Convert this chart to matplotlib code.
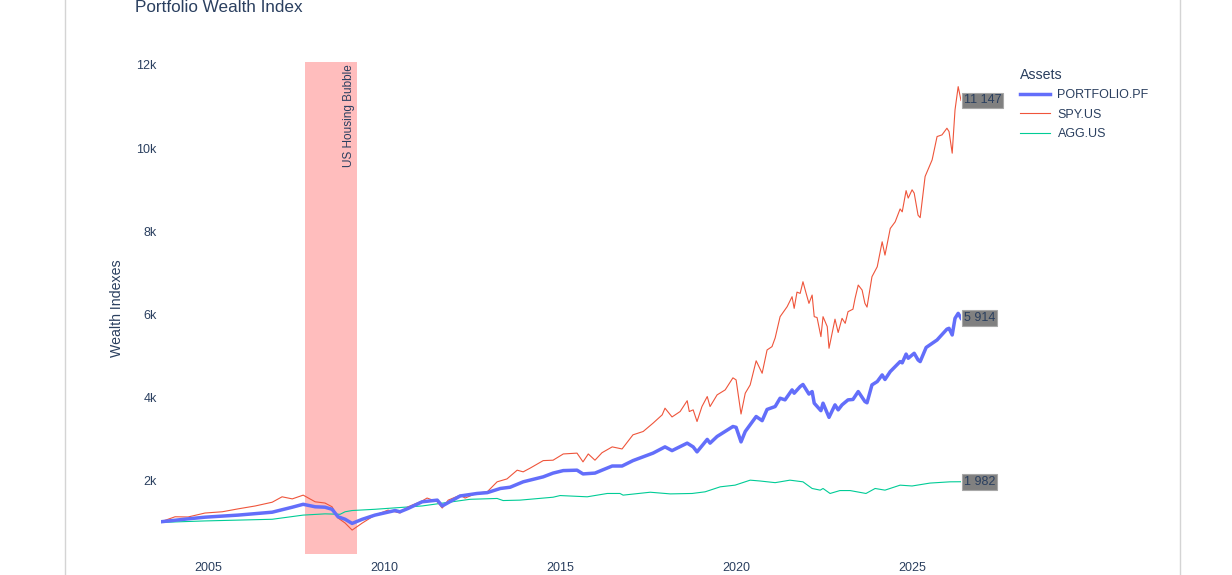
import matplotlib
matplotlib.use("Agg")
import matplotlib.pyplot as plt
from matplotlib.lines import Line2D

plt.rcParams['font.family'] = ['Liberation Sans', 'DejaVu Sans']

# ---------------- data (decimal years, wealth index) ----------------
spy_x = [2003.66, 2004.06, 2004.43, 2004.91, 2005.40, 2005.85, 2006.34, 2006.82, 2007.10,
         2007.39, 2007.70, 2008.04, 2008.32, 2008.52, 2008.69, 2008.89, 2009.09, 2009.38,
         2009.74, 2010.11, 2010.31, 2010.45, 2010.68, 2011.08, 2011.22, 2011.51, 2011.65,
         2011.82, 2012.16, 2012.30, 2012.64, 2012.93, 2013.21, 2013.49, 2013.78, 2013.95,
         2014.15, 2014.52, 2014.80, 2015.09, 2015.48, 2015.65, 2015.80, 2015.99, 2016.19,
         2016.48, 2016.65, 2016.76, 2017.07, 2017.36, 2017.64, 2017.90, 2017.98, 2018.18,
         2018.41, 2018.61, 2018.67, 2018.78, 2018.89, 2019.03, 2019.18, 2019.26, 2019.46,
         2019.69, 2019.91, 2020.00, 2020.14, 2020.26, 2020.40, 2020.57, 2020.74, 2020.88,
         2021.02, 2021.11, 2021.25, 2021.45, 2021.59, 2021.65, 2021.73, 2021.82, 2021.90,
         2021.99, 2022.07, 2022.16, 2022.22, 2022.30, 2022.41, 2022.47, 2022.59, 2022.64,
         2022.81, 2022.90, 2023.01, 2023.10, 2023.18, 2023.32, 2023.38, 2023.47, 2023.58,
         2023.66, 2023.72, 2023.86, 2024.01, 2024.15, 2024.23, 2024.38, 2024.52, 2024.66,
         2024.72, 2024.83, 2024.89, 2025.00, 2025.06, 2025.17, 2025.23, 2025.37, 2025.57,
         2025.71, 2025.85, 2025.99, 2026.05, 2026.14, 2026.22, 2026.31, 2026.39]
spy_v = [1020, 1140, 1135, 1230, 1260, 1330, 1400, 1490, 1620,
         1570, 1660, 1500, 1470, 1380, 1110, 990, 820, 990,
         1180, 1300, 1260, 1230, 1380, 1520, 1590, 1500, 1350,
         1540, 1660, 1590, 1710, 1740, 1980, 2050, 2260, 2220,
         2310, 2490, 2500, 2650, 2670, 2460, 2650, 2500, 2680,
         2820, 2790, 2770, 3110, 3190, 3390, 3590, 3750, 3540,
         3670, 3930, 3670, 3710, 3430, 3790, 4030, 3790, 4070,
         4190, 4480, 4430, 3610, 4110, 4310, 4890, 4590, 5150,
         5230, 5440, 5950, 6190, 6430, 6150, 6540, 6510, 6790,
         6510, 6270, 6470, 5950, 5930, 5470, 5950, 5710, 5190,
         5890, 5570, 5910, 5790, 6070, 6130, 6390, 6710, 6590,
         6270, 6180, 6910, 7150, 7750, 7430, 8070, 8230, 8540,
         8470, 8980, 8800, 9000, 8920, 8390, 8330, 9320, 9720,
         10280, 10320, 10480, 10400, 9880, 10920, 11480, 11147]

pf_x = [2003.66, 2004.43, 2004.91, 2005.85, 2006.82, 2007.39, 2007.70, 2008.04, 2008.32,
        2008.52, 2008.69, 2008.89, 2009.09, 2009.38, 2009.74, 2010.31, 2010.45, 2010.68,
        2011.08, 2011.51, 2011.65, 2012.16, 2012.64, 2012.93, 2013.30, 2013.58, 2013.95,
        2014.52, 2014.80, 2015.09, 2015.48, 2015.65, 2015.99, 2016.19, 2016.48, 2016.76,
        2017.07, 2017.64, 2017.98, 2018.18, 2018.61, 2018.78, 2018.89, 2019.18, 2019.26,
        2019.46, 2019.91, 2020.00, 2020.14, 2020.26, 2020.57, 2020.74, 2020.88, 2021.11,
        2021.25, 2021.39, 2021.59, 2021.65, 2021.82, 2021.90, 2022.07, 2022.16, 2022.22,
        2022.41, 2022.47, 2022.64, 2022.81, 2022.90, 2023.01, 2023.18, 2023.32, 2023.47,
        2023.66, 2023.72, 2023.86, 2024.01, 2024.15, 2024.23, 2024.38, 2024.66, 2024.72,
        2024.83, 2024.89, 2025.06, 2025.17, 2025.23, 2025.40, 2025.71, 2025.99, 2026.05,
        2026.14, 2026.22, 2026.31, 2026.39]
pf_v = [1020, 1090, 1130, 1180, 1250, 1370, 1440, 1380, 1370,
        1320, 1140, 1080, 980, 1080, 1180, 1290, 1260, 1340,
        1500, 1540, 1400, 1640, 1700, 1720, 1820, 1850, 1980,
        2100, 2190, 2250, 2260, 2170, 2190, 2260, 2360, 2360,
        2490, 2670, 2820, 2730, 2910, 2820, 2700, 3000, 2910,
        3070, 3310, 3290, 2940, 3190, 3550, 3450, 3720, 3790,
        3990, 3950, 4190, 4110, 4270, 4320, 4090, 4150, 3870,
        3690, 3870, 3530, 3830, 3710, 3830, 3950, 3960, 4150,
        3910, 3880, 4310, 4390, 4550, 4440, 4630, 4870, 4840,
        5050, 4950, 5070, 4910, 4870, 5210, 5390, 5650, 5670,
        5510, 5910, 6030, 5914]

agg_x = [2003.66, 2004.91, 2006.82, 2007.70, 2008.32, 2008.75, 2008.89, 2009.09, 2009.74,
         2011.08, 2012.44, 2013.21, 2013.38, 2013.86, 2014.80, 2015.00, 2015.77, 2016.34,
         2016.70, 2016.79, 2017.56, 2018.13, 2018.75, 2019.12, 2019.55, 2019.97, 2020.40,
         2020.68, 2021.11, 2021.53, 2021.90, 2022.16, 2022.39, 2022.47, 2022.67, 2022.95,
         2023.24, 2023.69, 2023.95, 2024.23, 2024.66, 2025.00, 2025.51, 2026.08, 2026.39]
agg_v = [1005, 1040, 1080, 1180, 1210, 1200, 1260, 1290, 1320,
         1400, 1560, 1580, 1530, 1540, 1610, 1650, 1620, 1700,
         1700, 1660, 1730, 1690, 1700, 1740, 1860, 1900, 2020,
         2000, 1960, 2020, 1980, 1820, 1780, 1820, 1700, 1770,
         1770, 1700, 1820, 1780, 1900, 1880, 1950, 1980, 1982]

series_names = ["PORTFOLIO.PF", "SPY.US", "AGG.US"]
end_labels = ["5 914", "11 147", "1 982"]
x_ticks = [2005, 2010, 2015, 2020, 2025]
y_ticks = [2000, 4000, 6000, 8000, 10000, 12000]
y_tick_labels = ["2k", "4k", "6k", "8k", "10k", "12k"]
bubble_start, bubble_end = 2007.76, 2009.23
bubble_label = "US Housing Bubble"

# ---------------- figure ----------------
W, H = 1232, 575
fig = plt.figure(figsize=(W / 100, H / 100), dpi=100)
fig.patch.set_facecolor("white")
txt_color = "#2a3f5f"
fs = 9.0

L, R, T, B = 161, 961, 62, 554
ax = fig.add_axes([L / W, 1 - B / H, (R - L) / W, (B - T) / H])
ax.set_facecolor("white")
for s in ax.spines.values():
    s.set_visible(False)

ax.axvspan(bubble_start, bubble_end, color="#ffbdbd", lw=0, zorder=0)

ax.plot(agg_x, agg_v, color="#00cc96", lw=0.8, zorder=2)
ax.plot(spy_x, spy_v, color="#EF553B", lw=0.8, zorder=3)
ax.plot(pf_x, pf_v, color="#636efa", lw=2.5, zorder=4, solid_joinstyle="round")

ax.set_xlim(spy_x[0], spy_x[-1])
ax.set_ylim(245, 12072)
ax.set_xticks(x_ticks)
ax.set_xticklabels([str(t) for t in x_ticks])
ax.set_yticks(y_ticks)
ax.set_yticklabels(y_tick_labels)
ax.tick_params(axis="both", length=0, labelsize=fs, colors=txt_color, pad=3)
ax.tick_params(axis="x", pad=6)
ax.set_ylabel("Wealth Indexes", fontsize=10.2, color=txt_color, labelpad=9)

ax.text(bubble_end - 0.05, 12020, bubble_label, rotation=90, ha="right", va="top",
        fontsize=8.5, color=txt_color, zorder=5)

# end annotations
for xs, vs, lab in [(spy_x, spy_v, end_labels[1]), (pf_x, pf_v, end_labels[0]),
                    (agg_x, agg_v, end_labels[2])]:
    ax.annotate(lab, xy=(xs[-1], vs[-1]), xytext=(2.0, 0), textcoords="offset points",
                ha="left", va="center", fontsize=fs, color=txt_color,
                bbox=dict(boxstyle="square,pad=0.15", fc="#808080", ec="#a8a8a8", lw=0.8),
                annotation_clip=False, zorder=6)

# legend
handles = [Line2D([], [], color="#636efa", lw=2.5),
           Line2D([], [], color="#EF553B", lw=0.8),
           Line2D([], [], color="#00cc96", lw=0.8)]
leg = fig.legend(handles, series_names, title="Assets", loc="upper left",
                 bbox_to_anchor=(1016 / W, 1 - 64 / H), frameon=False,
                 fontsize=fs, title_fontsize=10.2, handlelength=2.4, handletextpad=0.62,
                 labelspacing=0.6, alignment="left", borderaxespad=0, borderpad=0.3)
for t in leg.get_texts():
    t.set_color(txt_color)
leg.get_title().set_color(txt_color)

# title
fig.text(135 / W, 1 - 12 / H, "Portfolio Wealth Index", fontsize=12.3, color=txt_color,
         ha="left", va="baseline")

# page borders
fig.add_artist(Line2D([64.5 / W, 64.5 / W], [0, 1], color="#d4d4d4", lw=1))
fig.add_artist(Line2D([1179.5 / W, 1179.5 / W], [0, 1], color="#d4d4d4", lw=1))

fig.savefig("out.png", dpi=100, facecolor="white")
